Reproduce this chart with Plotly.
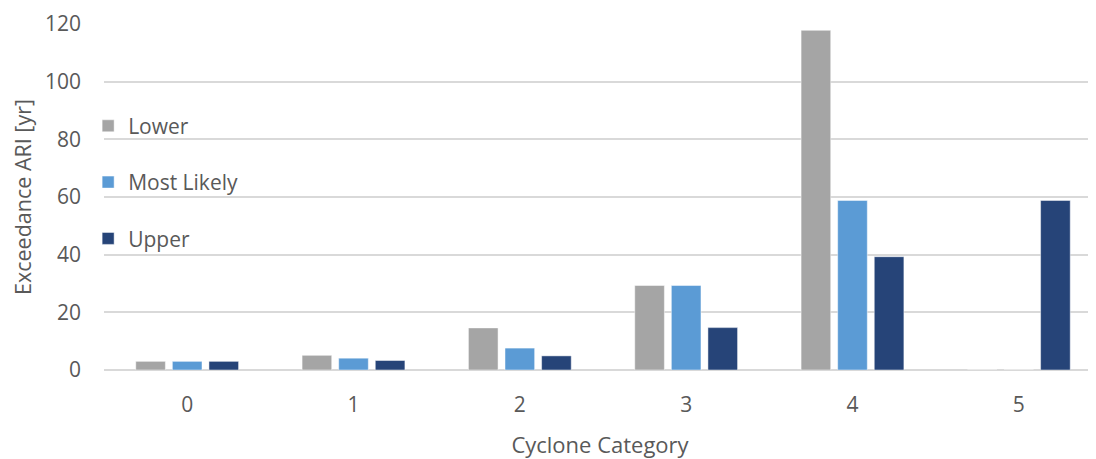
import plotly.graph_objects as go

categories = ["0", "1", "2", "3", "4", "5"]
lower = [3.0, 5.1, 14.6, 29.3, 117.8, 0]
most_likely = [3.0, 4.1, 7.6, 29.3, 58.8, 0]
upper = [3.0, 3.3, 4.9, 14.7, 39.3, 58.8]
series_names = ["Lower", "Most Likely", "Upper"]
colors = ["#A5A5A5", "#5B9BD5", "#264478"]

FONT = "Open Sans"
fig = go.Figure()
for name, vals, col in zip(series_names, [lower, most_likely, upper], colors):
    fig.add_trace(go.Bar(
        x=list(range(len(categories))), y=vals, name=name, legendgroup=name,
        marker=dict(color=col, line=dict(color="rgba(255,255,255,0.6)", width=0.8)),
    ))

# page body has an 8px default margin, so the figure is sized to fit inside it
fig.update_layout(
    width=1088, height=451,
    margin=dict(l=96, r=0, t=16, b=89),
    paper_bgcolor="white", plot_bgcolor="white",
    barmode="group", bargap=0.34, bargroupgap=0.19,
    font=dict(family=FONT, size=21, color="#595959"),
    showlegend=True,
    legend=dict(x=-0.016, xanchor="left", y=0.764, yanchor="top",
                orientation="v", tracegroupgap=26,
                font=dict(family=FONT, size=21, color="#595959"),
                bgcolor="rgba(0,0,0,0)"),
    xaxis=dict(
        range=[-0.5, 5.464], tickmode="array",
        tickvals=list(range(len(categories))), ticktext=categories,
        showgrid=False, zeroline=False, showline=False, ticks="",
        automargin=False, ticklabelstandoff=20,
        title=dict(text="Cyclone Category", standoff=22,
                   font=dict(family=FONT, size=22, color="#595959")),
    ),
    yaxis=dict(
        range=[0, 120], tickvals=[0, 20, 40, 60, 80, 100, 120],
        showgrid=True, gridcolor="#D9D9D9", gridwidth=1.5,
        zeroline=True, zerolinecolor="#D9D9D9", zerolinewidth=1.5,
        showline=False, ticks="", ticklabelstandoff=22, automargin=False,
        title=dict(text="Exceedance ARI [yr]", standoff=9,
                   font=dict(family=FONT, size=21.5, color="#595959")),
    ),
)
fig.write_html("out.html")
